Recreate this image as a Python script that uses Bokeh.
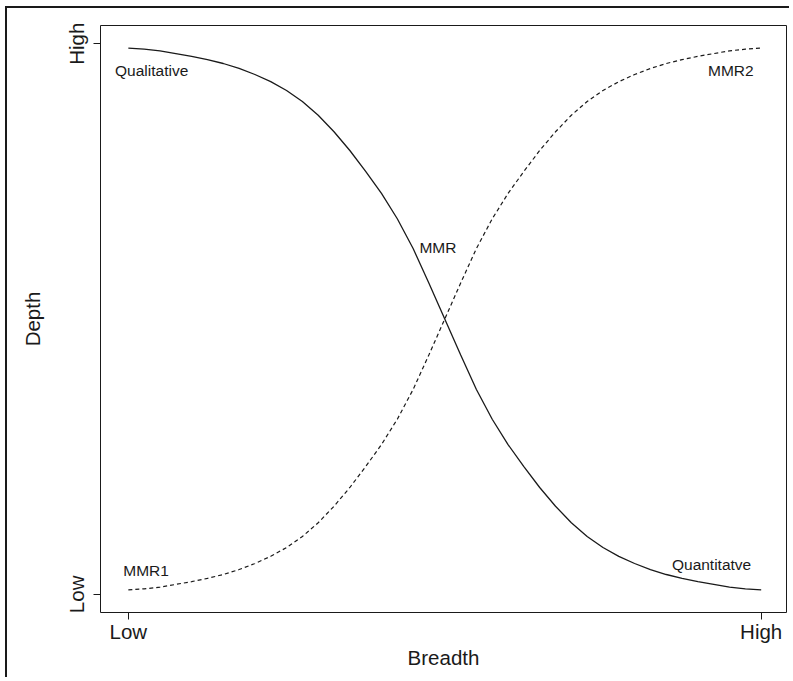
from bokeh.plotting import figure
from bokeh.models import Range1d, FixedTicker
from bokeh.core.properties import value
from bokeh.embed import file_html
from bokeh.resources import INLINE

# ---- data ----
breadth = [0.0, 0.025, 0.05, 0.075, 0.1, 0.125, 0.15, 0.175, 0.2, 0.225, 0.25,
           0.275, 0.3, 0.325, 0.35, 0.375, 0.4, 0.425, 0.45, 0.475, 0.5,
           0.525, 0.55, 0.575, 0.6, 0.625, 0.65, 0.675, 0.7, 0.725, 0.75,
           0.775, 0.8, 0.825, 0.85, 0.875, 0.9, 0.925, 0.95, 0.975, 1.0]
qual_quant = [0.992, 0.990, 0.987, 0.982, 0.977, 0.971, 0.964, 0.955, 0.944, 0.931, 0.915,
              0.895, 0.870, 0.840, 0.806, 0.768, 0.728, 0.682, 0.628, 0.565, 0.500,
              0.435, 0.372, 0.318, 0.272, 0.232, 0.194, 0.160, 0.130, 0.105, 0.085,
              0.069, 0.056, 0.045, 0.036, 0.029, 0.023, 0.018, 0.013, 0.010, 0.008]
mmr1_mmr2 = [0.008, 0.010, 0.013, 0.018, 0.023, 0.029, 0.036, 0.045, 0.056, 0.069, 0.085,
             0.105, 0.130, 0.160, 0.194, 0.232, 0.272, 0.318, 0.372, 0.435, 0.500,
             0.565, 0.628, 0.682, 0.728, 0.768, 0.806, 0.840, 0.870, 0.895, 0.915,
             0.931, 0.944, 0.955, 0.964, 0.971, 0.977, 0.982, 0.987, 0.990, 0.992]
tick_values = [0, 1]
tick_labels = ["Low", "High"]
label_texts = ["Qualitative", "MMR1", "MMR2", "Quantitatve", "MMR"]

FONT = "Liberation Sans"
INK = "#1a1a1a"

p = figure(width=784, height=671, output_backend="svg", toolbar_location=None,
           x_range=Range1d(-0.044, 1.04), y_range=Range1d(-0.033, 1.033),
           min_border_left=93, min_border_right=5, min_border_top=17, min_border_bottom=67)
p.styles = {"border-top": "2px solid #1a1a1a", "border-left": "2px solid #1a1a1a",
            "margin-left": "5px", "margin-top": "6px"}

p.background_fill_color = "white"
p.border_fill_color = "white"
p.outline_line_color = INK
p.outline_line_width = 1
p.grid.visible = False

p.line(breadth, qual_quant, line_color=INK, line_width=1.3)
p.line(breadth, mmr1_mmr2, line_color=INK, line_width=1.2, line_dash="4 3")

# annotation positions (data coords)
lx = [-0.021, -0.008, 0.916, 0.859, 0.460]
ly = [0.951, 0.044, 0.951, 0.054, 0.630]
p.text(x=lx, y=ly, text=label_texts, text_font=value(FONT), text_font_size="15.5px",
       text_color=INK, text_align="left", text_baseline="middle")

for ax in (p.xaxis[0], p.yaxis[0]):
    ax.ticker = FixedTicker(ticks=tick_values)
    ax.major_label_overrides = {v: t for v, t in zip(tick_values, tick_labels)}
    ax.axis_line_color = None
    ax.major_tick_line_color = INK
    ax.major_tick_out = 7
    ax.major_tick_in = 0
    ax.minor_tick_line_color = None
    ax.major_label_text_font = FONT
    ax.major_label_text_font_size = "20.5px"
    ax.major_label_text_color = INK
    ax.axis_label_text_font = FONT
    ax.axis_label_text_font_size = "20.5px"
    ax.axis_label_text_font_style = "normal"
    ax.axis_label_text_color = INK

p.xaxis.axis_label = "Breadth"
p.yaxis.axis_label = "Depth"
p.xaxis.major_label_standoff = 0
p.yaxis.major_label_standoff = 5
p.yaxis.major_label_orientation = "vertical"
p.xaxis.axis_label_standoff = 0
p.yaxis.axis_label_standoff = 19

open("out.html", "w").write(file_html(p, INLINE))
